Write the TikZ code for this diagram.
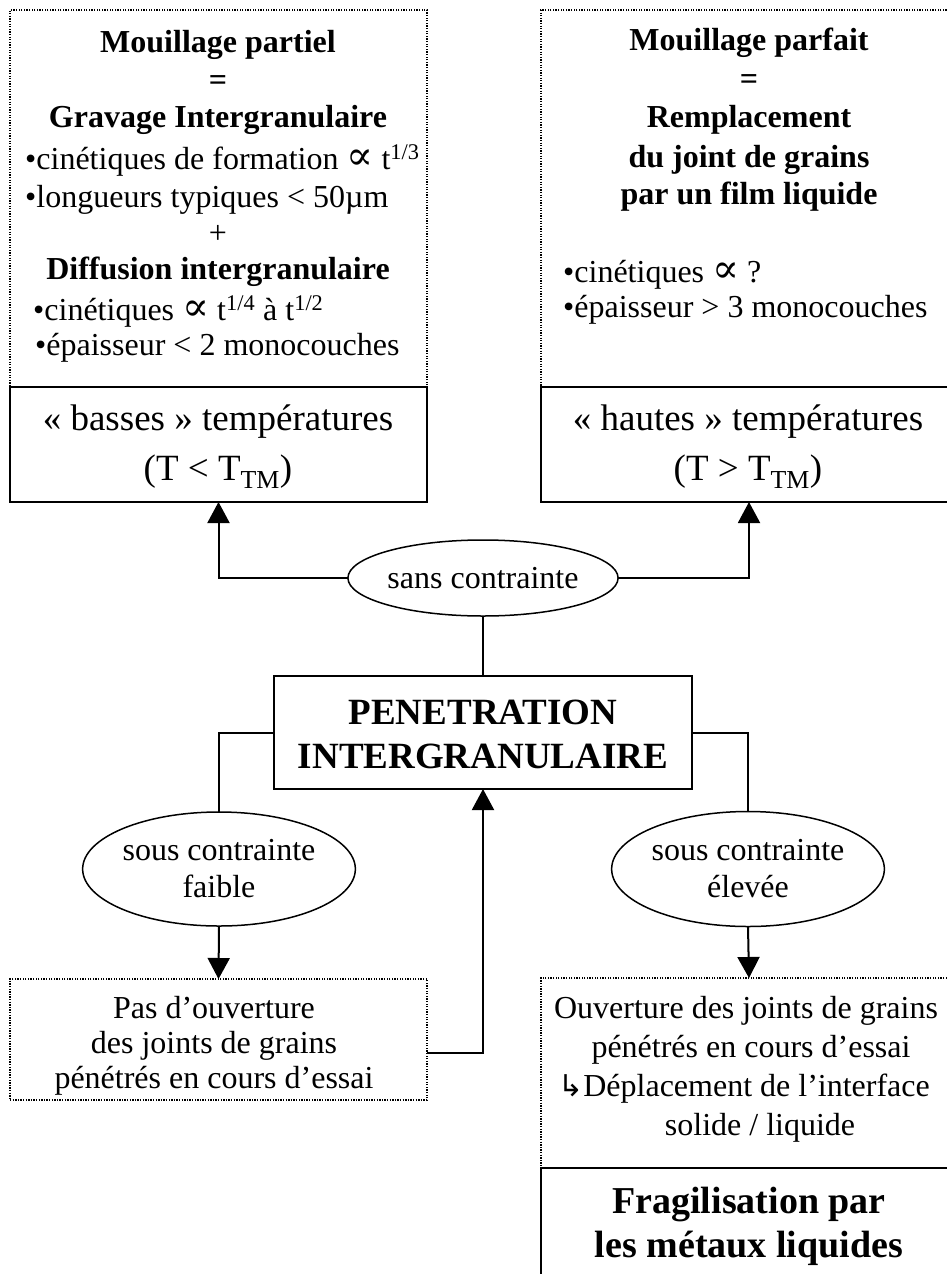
\documentclass[tikz,border=0pt]{standalone}
\usepackage{fontspec}
\setmainfont{Liberation Serif}
\newfontfamily\symfont{DejaVu Sans}
\newfontfamily\propfont{DejaVu Serif}
\usetikzlibrary{arrows.meta,shapes.geometric}
\newcommand{\prop}{{\propfont\fontsize{40}{40}\selectfont ∝}}
\begin{document}
\begin{tikzpicture}[x=1pt,y=-1pt,
  solidbox/.style={draw, line width=2pt, rectangle, inner sep=0pt, outer sep=0pt},
  dotbox/.style={draw, line width=1.3pt, dash pattern=on 1.3pt off 1.3pt, rectangle, inner sep=0pt, outer sep=0pt},
  oval/.style={draw, line width=1.5pt, ellipse, inner sep=0pt, outer sep=0pt, align=center, font=\fontsize{32}{37}\selectfont},
  conn/.style={line width=2pt},
  arr/.style={conn, -{Triangle[length=21pt,width=22pt]}},
  txt/.style={inner sep=0pt, anchor=base, font=\fontsize{32}{38}\selectfont},
  txtw/.style={inner sep=0pt, anchor=base west, font=\fontsize{32}{38}\selectfont},
  btxt/.style={txt, font=\fontsize{32}{38}\selectfont\bfseries},
  big/.style={txt, font=\fontsize{37}{44}\selectfont},
  bigb/.style={txt, font=\fontsize{37}{44}\selectfont\bfseries},
  fragb/.style={txt, font=\fontsize{38}{44}\selectfont\bfseries}
]
\useasboundingbox (0,0) rectangle (946,1274);

% dotted boxes
\node[dotbox, minimum width=417pt, minimum height=377pt] (ltop) at (218.5,198.5) {};
\node[dotbox, minimum width=416pt, minimum height=377pt] (rtop) at (749,198.5) {};
\node[dotbox, minimum width=417pt, minimum height=121pt] (lbox) at (218.5,1039.5) {};
\node[dotbox, minimum width=416pt, minimum height=190pt] (rbox) at (749,1073) {};
\coordinate (lbj) at (427,1053);

% solid boxes
\node[solidbox, minimum width=417pt, minimum height=115pt] (ltemp) at (218.5,444.5) {};
\node[solidbox, minimum width=416pt, minimum height=115pt] (rtemp) at (749,444.5) {};
\node[solidbox, minimum width=418pt, minimum height=113pt] (pen) at (483,732.5) {};
\node[solidbox, minimum width=416pt, minimum height=127pt] (frag) at (749,1231.5) {};

% ellipses
\node[oval, minimum width=264pt, minimum height=76pt] (sans) at (483,578) {sans contrainte};
\node[oval, minimum width=265pt, minimum height=114pt] (sf) at (219,869) {sous contrainte\\faible};
\node[oval, minimum width=265pt, minimum height=115pt] (se) at (748,869) {sous contrainte\\élevée};

% left top text
\node[btxt] (lt1) at (218,52) {Mouillage partiel};
\node[btxt] (lt2) at (218,90) {=};
\node[btxt] (lt3) at (218,127) {Gravage Intergranulaire};
\node[txtw] (lt4) at (25,169) {•cinétiques de formation \prop{} t\textsuperscript{1/3}};
\node[txtw] (lt5) at (25,207) {•longueurs typiques < 50µm};
\node[txt] (lt6) at (218,243) {+};
\node[btxt] (lt7) at (218,279) {Diffusion intergranulaire};
\node[txtw] (lt8) at (33,320) {•cinétiques \prop{} t\textsuperscript{1/4} à t\textsuperscript{1/2}};
\node[txtw] (lt9) at (35,355) {•épaisseur < 2 monocouches};

% right top text
\node[btxt] (rt1) at (749,50) {Mouillage parfait};
\node[btxt] (rt2) at (749,89) {=};
\node[btxt] (rt3) at (749,127) {Remplacement};
\node[btxt] (rt4) at (749,167) {du joint de grains};
\node[btxt] (rt5) at (749,204) {par un film liquide};
\node[txtw] (rt6) at (563,282) {•cinétiques \prop{} ?};
\node[txtw] (rt7) at (563,317) {•épaisseur > 3 monocouches};

% temperature boxes text
\node[big] (lte1) at (218,430) {« basses » températures};
\node[big] (lte2) at (218,480) {(T < T\textsubscript{TM})};
\node[big] (rte1) at (748,430) {« hautes » températures};
\node[big] (rte2) at (748,480) {(T > T\textsubscript{TM})};

% central box text
\node[bigb] (pen1) at (483,724) {PENETRATION};
\node[bigb] (pen2) at (483,768) {INTERGRANULAIRE};

% bottom left text
\node[txt] (lb1) at (214,1018) {Pas d’ouverture};
\node[txt] (lb2) at (214,1053) {des joints de grains};
\node[txt] (lb3) at (214,1088) {pénétrés en cours d’essai};

% bottom right text
\node[txt] (rb1) at (746,1018) {Ouverture des joints de grains};
\node[txt] (rb2) at (751,1057) {pénétrés en cours d’essai};
\node[txt] (rb3) at (744,1096) {{\symfont\fontsize{30}{30}\selectfont ↳}Déplacement de l’interface};
\node[txt] (rb4) at (760,1135) {solide / liquide};

% fragilisation text
\node[fragb] (fr1) at (749,1213) {Fragilisation par};
\node[fragb] (fr2) at (749,1257) {les métaux liquides};

% connectors
\draw[arr] (sans.west) -| (ltemp.south);
\draw[arr] (sans.east) -| (rtemp.south);
\draw[conn] (sans.south) -- (pen.north);
\draw[conn] (pen.west) -| (sf.north);
\draw[conn] (pen.east) -| (se.north);
\draw[arr] (sf.south) -- (lbox.north);
\draw[arr] (se.south) -- (rbox.north);
\draw[arr] (lbj) -| (pen.south);
\end{tikzpicture}
\end{document}
